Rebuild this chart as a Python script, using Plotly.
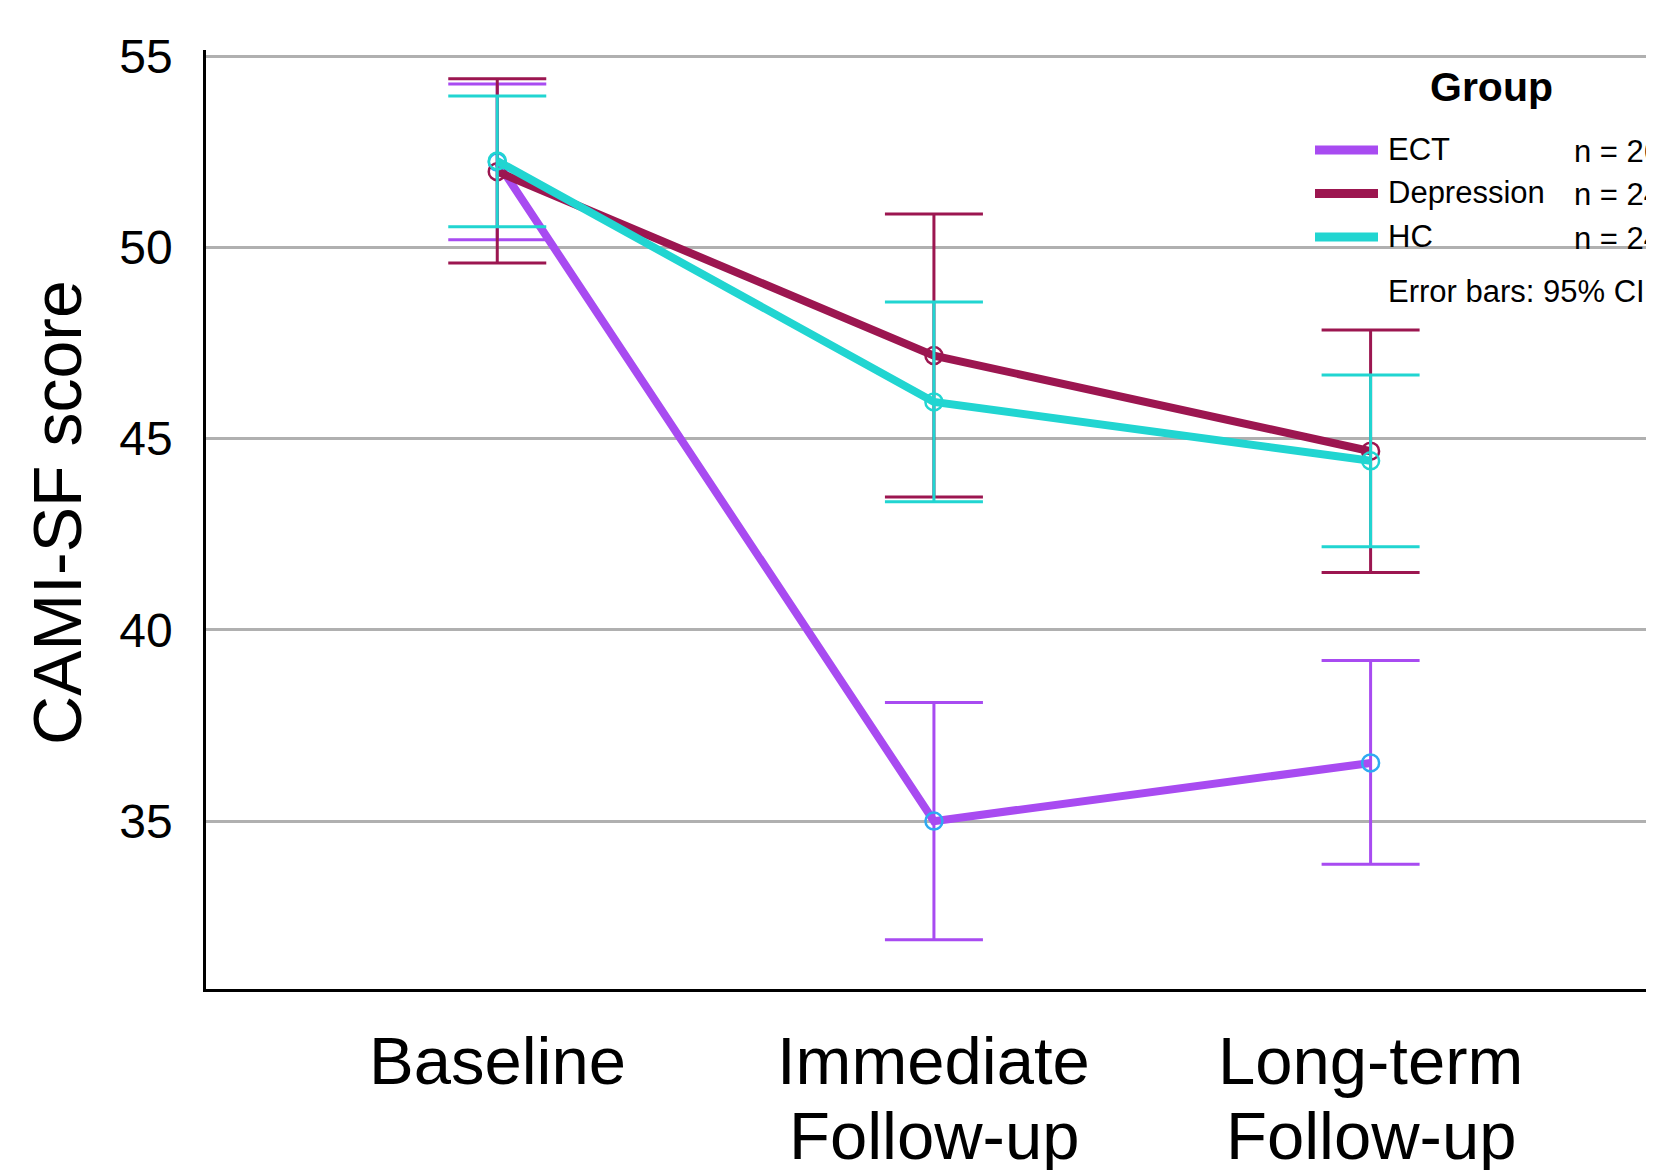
import plotly.graph_objects as go

# ---------------- data ----------------
categories = ["Baseline", "Immediate Follow-up", "Long-term Follow-up"]
label_lines = [["Baseline"], ["Immediate", "Follow-up"], ["Long-term", "Follow-up"]]

ect_mean = [52.23, 35.00, 36.52]
ect_lo = [50.20, 31.90, 33.87]
ect_hi = [54.27, 38.10, 39.20]

dep_mean = [51.98, 47.17, 44.67]
dep_lo = [49.59, 43.47, 41.50]
dep_hi = [54.41, 50.87, 47.84]

hc_mean = [52.26, 45.96, 44.42]
hc_lo = [50.54, 43.35, 42.17]
hc_hi = [53.96, 48.57, 46.66]

group_names = ["ECT", "Depression", "HC"]
group_n = ["n = 26", "n = 24", "n = 24"]
y_ticks = [35, 40, 45, 50, 55]

# ---------------- style ----------------
FONT = "Liberation Sans, Arial, sans-serif"
C_ECT = "#a84bf1"
C_DEP = "#9c1650"
C_HC = "#21d5d1"
C_ECT_MK = "#2eaaf2"

OFF = 8  # page body margin
W, H = 1654, 1170
L, R, T, B = 206 - OFF, OFF, 50 - OFF, 1170 - (989 - OFF)
PW, PH = W - L - R, H - T - B


def px(xs):
    return (xs - OFF - L) / PW


def py(ys):
    return (H - B - (ys - OFF)) / PH


fig = go.Figure()


def add_group(name, mean, lo, hi, color, mk_color):
    fig.add_trace(go.Scatter(
        x=categories, y=mean, name=name, mode="lines+markers",
        line=dict(color=color, width=8),
        marker=dict(symbol="circle-open", size=17, color=mk_color,
                    line=dict(width=2.5, color=mk_color)),
        error_y=dict(type="data", symmetric=False,
                     array=[h - m for h, m in zip(hi, mean)],
                     arrayminus=[m - l for m, l in zip(mean, lo)],
                     color=color, thickness=3, width=49),
        showlegend=False,
    ))


add_group("ECT", ect_mean, ect_lo, ect_hi, C_ECT, C_ECT_MK)
add_group("Depression", dep_mean, dep_lo, dep_hi, C_DEP, C_DEP)
add_group("HC", hc_mean, hc_lo, hc_hi, C_HC, C_HC)

annotations = []
shapes = []

# x-axis labels (two-line)
for cat, lines in zip(categories, label_lines):
    for i, txt in enumerate(lines):
        annotations.append(dict(
            x=cat, xref="x", y=py(1060 + i * 75), yref="paper",
            text=txt, showarrow=False, xanchor="center", yanchor="middle",
            font=dict(family=FONT, size=67, color="black")))

# y-axis title
annotations.append(dict(
    x=px(57), xref="paper", y=py(513), yref="paper", text="CAMI-SF score",
    textangle=-90, showarrow=False, xanchor="center", yanchor="middle",
    font=dict(family=FONT, size=68, color="black")))

# legend
annotations.append(dict(
    x=px(1491), xref="paper", y=py(87), yref="paper", text="<b>Group</b>",
    showarrow=False, xanchor="center", yanchor="middle",
    font=dict(family=FONT, size=41, color="black")))
leg_colors = [C_ECT, C_DEP, C_HC]
leg_y = [150, 193.5, 237]
for name, n, col, ly in zip(group_names, group_n, leg_colors, leg_y):
    shapes.append(dict(type="line", xref="paper", yref="paper",
                       x0=px(1315), x1=px(1378), y0=py(ly), y1=py(ly),
                       line=dict(color=col, width=9)))
    annotations.append(dict(
        x=px(1386), xref="paper", y=py(ly - 1), yref="paper", text=name,
        showarrow=False, xanchor="left", yanchor="middle",
        font=dict(family=FONT, size=31, color="black")))
    annotations.append(dict(
        x=px(1572), xref="paper", y=py(ly + 1), yref="paper", text=n,
        showarrow=False, xanchor="left", yanchor="middle",
        font=dict(family=FONT, size=31, color="black")))
annotations.append(dict(
    x=px(1386), xref="paper", y=py(291), yref="paper", text="Error bars: 95% CI",
    showarrow=False, xanchor="left", yanchor="middle",
    font=dict(family=FONT, size=31, color="black")))

fig.update_layout(
    width=W, height=H,
    margin=dict(l=L, r=R, t=T, b=B, pad=0),
    paper_bgcolor="white", plot_bgcolor="white",
    font=dict(family=FONT, color="black"),
    annotations=annotations, shapes=shapes,
    xaxis=dict(type="category", range=[-0.667, 2.649], showticklabels=False,
               showgrid=False, zeroline=False, showline=True,
               linecolor="black", linewidth=2.5, ticks=""),
    yaxis=dict(range=[30.61, 55.16], tickvals=y_ticks,
               ticktext=[str(v) for v in y_ticks],
               showgrid=True, gridcolor="#b0b0b0", gridwidth=2.5,
               zeroline=False, showline=True, linecolor="black", linewidth=2.5,
               ticks="", ticklabelstandoff=21,
               tickfont=dict(family=FONT, size=48, color="black")),
)

fig.write_html("out.html")
